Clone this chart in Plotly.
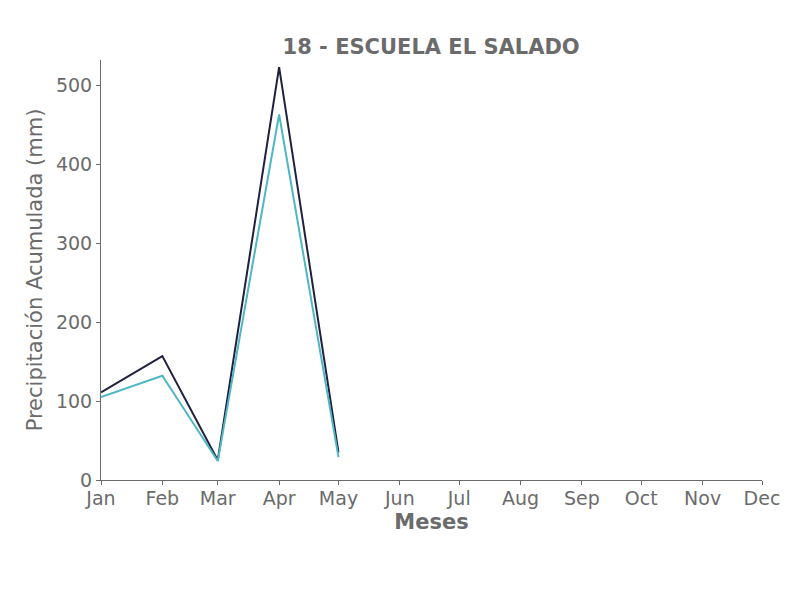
import plotly.graph_objects as go

months = ["2023-01-01", "2023-02-01", "2023-03-01", "2023-04-01", "2023-05-01"]
serie_oscura = [111, 157, 25, 523, 35]
serie_clara = [105, 132, 24, 463, 29]

title_text = "18 - ESCUELA EL SALADO"
x_title = "Meses"
y_title = "Precipitación Acumulada (mm)"

grey = "#6b6b6b"
fig = go.Figure()
fig.add_trace(go.Scatter(x=months, y=serie_oscura, mode="lines",
                         line=dict(color="#20203f", width=2), showlegend=False))
fig.add_trace(go.Scatter(x=months, y=serie_clara, mode="lines",
                         line=dict(color="#4fb7c3", width=2), showlegend=False))

fig.update_layout(
    width=806, height=600,
    paper_bgcolor="white", plot_bgcolor="white",
    margin=dict(l=93, r=52, t=52, b=128),
    font=dict(family="DejaVu Sans", color=grey, size=20),
    title=dict(text="<b>" + title_text + "</b>", x=0.525, xanchor="center",
               y=0.936, yanchor="middle", font=dict(size=21, color=grey)),
    xaxis=dict(type="date", range=["2023-01-01", "2023-12-01"], dtick="M1",
               tickformat="%b", showgrid=False, showline=True, linecolor=grey,
               linewidth=1, ticks="outside", ticklen=4, tickcolor=grey,
               zeroline=False, tickfont=dict(size=19), ticklabelstandoff=-3,
               title=dict(text="<b>" + x_title + "</b>", font=dict(size=21), standoff=6)),
    yaxis=dict(range=[0, 532], dtick=100, showgrid=False, showline=True,
               linecolor=grey, linewidth=1, ticks="outside", ticklen=4,
               tickcolor=grey, zeroline=False, tickfont=dict(size=19),
               title=dict(text=y_title, font=dict(size=21), standoff=7)),
)

fig.write_html("out.html")
